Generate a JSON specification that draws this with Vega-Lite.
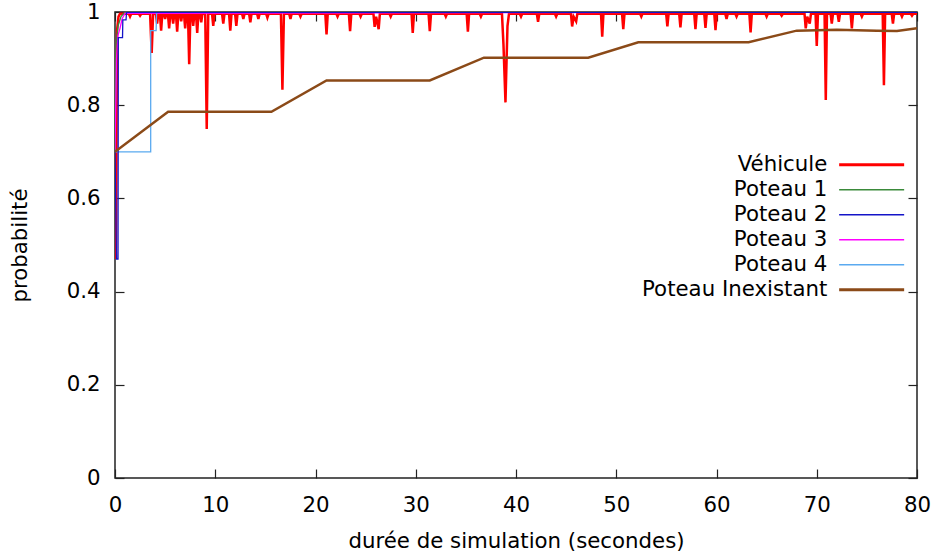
{
  "$schema": "https://vega.github.io/schema/vega-lite/v6.json",
  "width": 802,
  "height": 466,
  "autosize": "none",
  "padding": {"left": 115, "top": 12, "right": 18, "bottom": 78},
  "background": "white",
  "config": {
    "view": {"stroke": "#222222", "strokeWidth": 1.5},
    "font": "DejaVu Sans",
    "axis": {
      "domain": false,
      "grid": false,
      "ticks": true,
      "tickColor": "#222222",
      "tickSize": 9,
      "tickWidth": 1.2,
      "offset": -9,
      "zindex": 2,
      "labelFont": "DejaVu Sans",
      "labelFontSize": 21.3,
      "labelColor": "black",
      "titleFont": "DejaVu Sans",
      "titleFontSize": 21.3,
      "titleFontWeight": "normal",
      "titleColor": "black"
    }
  },
  "data": {
    "values": [
      {"s": "Véhicule", "t": 0, "p": 0.70},
      {"s": "Véhicule", "t": 0.1, "p": 0.47},
      {"s": "Véhicule", "t": 0.2, "p": 0.96},
      {"s": "Véhicule", "t": 0.35, "p": 0.99},
      {"s": "Véhicule", "t": 0.5, "p": 0.996},
      {"s": "Véhicule", "t": 1.38, "p": 0.996}, {"s": "Véhicule", "t": 1.5, "p": 0.99}, {"s": "Véhicule", "t": 1.62, "p": 0.996},
      {"s": "Véhicule", "t": 2.38, "p": 0.996}, {"s": "Véhicule", "t": 2.5, "p": 0.992}, {"s": "Véhicule", "t": 2.62, "p": 0.996},
      {"s": "Véhicule", "t": 3.5, "p": 0.996}, {"s": "Véhicule", "t": 3.66, "p": 0.912}, {"s": "Véhicule", "t": 3.8, "p": 0.996},
      {"s": "Véhicule", "t": 4.08, "p": 0.996}, {"s": "Véhicule", "t": 4.2, "p": 0.975}, {"s": "Véhicule", "t": 4.32, "p": 0.996},
      {"s": "Véhicule", "t": 4.48, "p": 0.996}, {"s": "Véhicule", "t": 4.6, "p": 0.96}, {"s": "Véhicule", "t": 4.72, "p": 0.996},
      {"s": "Véhicule", "t": 4.88, "p": 0.996}, {"s": "Véhicule", "t": 5.0, "p": 0.985}, {"s": "Véhicule", "t": 5.12, "p": 0.996},
      {"s": "Véhicule", "t": 5.28, "p": 0.996}, {"s": "Véhicule", "t": 5.4, "p": 0.965}, {"s": "Véhicule", "t": 5.52, "p": 0.996},
      {"s": "Véhicule", "t": 5.68, "p": 0.996}, {"s": "Véhicule", "t": 5.8, "p": 0.975}, {"s": "Véhicule", "t": 5.92, "p": 0.996},
      {"s": "Véhicule", "t": 6.08, "p": 0.996}, {"s": "Véhicule", "t": 6.2, "p": 0.958}, {"s": "Véhicule", "t": 6.32, "p": 0.996},
      {"s": "Véhicule", "t": 6.48, "p": 0.996}, {"s": "Véhicule", "t": 6.6, "p": 0.98}, {"s": "Véhicule", "t": 6.72, "p": 0.996},
      {"s": "Véhicule", "t": 6.88, "p": 0.996}, {"s": "Véhicule", "t": 7.0, "p": 0.965}, {"s": "Véhicule", "t": 7.12, "p": 0.996},
      {"s": "Véhicule", "t": 7.28, "p": 0.996}, {"s": "Véhicule", "t": 7.4, "p": 0.888}, {"s": "Véhicule", "t": 7.52, "p": 0.996},
      {"s": "Véhicule", "t": 7.68, "p": 0.996}, {"s": "Véhicule", "t": 7.8, "p": 0.97}, {"s": "Véhicule", "t": 7.92, "p": 0.996},
      {"s": "Véhicule", "t": 8.08, "p": 0.996}, {"s": "Véhicule", "t": 8.2, "p": 0.955}, {"s": "Véhicule", "t": 8.32, "p": 0.996},
      {"s": "Véhicule", "t": 8.48, "p": 0.996}, {"s": "Véhicule", "t": 8.6, "p": 0.978}, {"s": "Véhicule", "t": 8.72, "p": 0.996},
      {"s": "Véhicule", "t": 9.0, "p": 0.996}, {"s": "Véhicule", "t": 9.15, "p": 0.749}, {"s": "Véhicule", "t": 9.3, "p": 0.996},
      {"s": "Véhicule", "t": 9.68, "p": 0.996}, {"s": "Véhicule", "t": 9.8, "p": 0.97}, {"s": "Véhicule", "t": 9.92, "p": 0.996},
      {"s": "Véhicule", "t": 10.68, "p": 0.996}, {"s": "Véhicule", "t": 10.8, "p": 0.975}, {"s": "Véhicule", "t": 10.92, "p": 0.996},
      {"s": "Véhicule", "t": 11.38, "p": 0.996}, {"s": "Véhicule", "t": 11.5, "p": 0.96}, {"s": "Véhicule", "t": 11.62, "p": 0.996},
      {"s": "Véhicule", "t": 11.98, "p": 0.996}, {"s": "Véhicule", "t": 12.1, "p": 0.97}, {"s": "Véhicule", "t": 12.22, "p": 0.996},
      {"s": "Véhicule", "t": 12.68, "p": 0.996}, {"s": "Véhicule", "t": 12.8, "p": 0.985}, {"s": "Véhicule", "t": 12.92, "p": 0.996},
      {"s": "Véhicule", "t": 13.38, "p": 0.996}, {"s": "Véhicule", "t": 13.5, "p": 0.978}, {"s": "Véhicule", "t": 13.62, "p": 0.996},
      {"s": "Véhicule", "t": 14.18, "p": 0.996}, {"s": "Véhicule", "t": 14.3, "p": 0.985}, {"s": "Véhicule", "t": 14.42, "p": 0.996},
      {"s": "Véhicule", "t": 15.08, "p": 0.996}, {"s": "Véhicule", "t": 15.2, "p": 0.988}, {"s": "Véhicule", "t": 15.32, "p": 0.996},
      {"s": "Véhicule", "t": 16.55, "p": 0.996}, {"s": "Véhicule", "t": 16.7, "p": 0.833}, {"s": "Véhicule", "t": 16.85, "p": 0.996},
      {"s": "Véhicule", "t": 17.38, "p": 0.996}, {"s": "Véhicule", "t": 17.5, "p": 0.985}, {"s": "Véhicule", "t": 17.62, "p": 0.996},
      {"s": "Véhicule", "t": 18.38, "p": 0.996}, {"s": "Véhicule", "t": 18.5, "p": 0.99}, {"s": "Véhicule", "t": 18.62, "p": 0.996},
      {"s": "Véhicule", "t": 20.98, "p": 0.996}, {"s": "Véhicule", "t": 21.1, "p": 0.952}, {"s": "Véhicule", "t": 21.22, "p": 0.996},
      {"s": "Véhicule", "t": 22.08, "p": 0.996}, {"s": "Véhicule", "t": 22.2, "p": 0.99}, {"s": "Véhicule", "t": 22.32, "p": 0.996},
      {"s": "Véhicule", "t": 23.33, "p": 0.996}, {"s": "Véhicule", "t": 23.45, "p": 0.959}, {"s": "Véhicule", "t": 23.57, "p": 0.996},
      {"s": "Véhicule", "t": 24.38, "p": 0.996}, {"s": "Véhicule", "t": 24.5, "p": 0.99}, {"s": "Véhicule", "t": 24.62, "p": 0.996},
      {"s": "Véhicule", "t": 25.78, "p": 0.996}, {"s": "Véhicule", "t": 25.9, "p": 0.968}, {"s": "Véhicule", "t": 26.05, "p": 0.99}, {"s": "Véhicule", "t": 26.3, "p": 0.963}, {"s": "Véhicule", "t": 26.42, "p": 0.996},
      {"s": "Véhicule", "t": 27.38, "p": 0.996}, {"s": "Véhicule", "t": 27.5, "p": 0.99}, {"s": "Véhicule", "t": 27.62, "p": 0.996},
      {"s": "Véhicule", "t": 29.58, "p": 0.996}, {"s": "Véhicule", "t": 29.7, "p": 0.955}, {"s": "Véhicule", "t": 29.82, "p": 0.996},
      {"s": "Véhicule", "t": 31.28, "p": 0.996}, {"s": "Véhicule", "t": 31.4, "p": 0.959}, {"s": "Véhicule", "t": 31.52, "p": 0.996},
      {"s": "Véhicule", "t": 32.88, "p": 0.996}, {"s": "Véhicule", "t": 33.0, "p": 0.99}, {"s": "Véhicule", "t": 33.12, "p": 0.996},
      {"s": "Véhicule", "t": 35.08, "p": 0.996}, {"s": "Véhicule", "t": 35.2, "p": 0.958}, {"s": "Véhicule", "t": 35.32, "p": 0.996},
      {"s": "Véhicule", "t": 36.38, "p": 0.996}, {"s": "Véhicule", "t": 36.5, "p": 0.99}, {"s": "Véhicule", "t": 36.62, "p": 0.996},
      {"s": "Véhicule", "t": 38.6, "p": 0.996}, {"s": "Véhicule", "t": 38.75, "p": 0.93}, {"s": "Véhicule", "t": 38.95, "p": 0.806}, {"s": "Véhicule", "t": 39.15, "p": 0.97}, {"s": "Véhicule", "t": 39.3, "p": 0.996},
      {"s": "Véhicule", "t": 40.38, "p": 0.996}, {"s": "Véhicule", "t": 40.5, "p": 0.99}, {"s": "Véhicule", "t": 40.62, "p": 0.996},
      {"s": "Véhicule", "t": 42.08, "p": 0.996}, {"s": "Véhicule", "t": 42.2, "p": 0.979}, {"s": "Véhicule", "t": 42.32, "p": 0.996},
      {"s": "Véhicule", "t": 43.88, "p": 0.996}, {"s": "Véhicule", "t": 44.0, "p": 0.99}, {"s": "Véhicule", "t": 44.12, "p": 0.996},
      {"s": "Véhicule", "t": 45.48, "p": 0.996}, {"s": "Véhicule", "t": 45.6, "p": 0.969}, {"s": "Véhicule", "t": 45.75, "p": 0.99}, {"s": "Véhicule", "t": 46.0, "p": 0.98}, {"s": "Véhicule", "t": 46.12, "p": 0.996},
      {"s": "Véhicule", "t": 48.48, "p": 0.996}, {"s": "Véhicule", "t": 48.6, "p": 0.947}, {"s": "Véhicule", "t": 48.72, "p": 0.996},
      {"s": "Véhicule", "t": 50.58, "p": 0.996}, {"s": "Véhicule", "t": 50.7, "p": 0.963}, {"s": "Véhicule", "t": 50.82, "p": 0.996},
      {"s": "Véhicule", "t": 52.38, "p": 0.996}, {"s": "Véhicule", "t": 52.5, "p": 0.99}, {"s": "Véhicule", "t": 52.62, "p": 0.996},
      {"s": "Véhicule", "t": 54.98, "p": 0.996}, {"s": "Véhicule", "t": 55.1, "p": 0.969}, {"s": "Véhicule", "t": 55.22, "p": 0.996},
      {"s": "Véhicule", "t": 56.28, "p": 0.996}, {"s": "Véhicule", "t": 56.4, "p": 0.967}, {"s": "Véhicule", "t": 56.52, "p": 0.996},
      {"s": "Véhicule", "t": 57.78, "p": 0.996}, {"s": "Véhicule", "t": 57.9, "p": 0.963}, {"s": "Véhicule", "t": 58.02, "p": 0.996},
      {"s": "Véhicule", "t": 58.78, "p": 0.996}, {"s": "Véhicule", "t": 58.9, "p": 0.966}, {"s": "Véhicule", "t": 59.02, "p": 0.996},
      {"s": "Véhicule", "t": 59.78, "p": 0.996}, {"s": "Véhicule", "t": 59.9, "p": 0.961}, {"s": "Véhicule", "t": 60.02, "p": 0.996},
      {"s": "Véhicule", "t": 60.88, "p": 0.996}, {"s": "Véhicule", "t": 61.0, "p": 0.985}, {"s": "Véhicule", "t": 61.12, "p": 0.996},
      {"s": "Véhicule", "t": 61.88, "p": 0.996}, {"s": "Véhicule", "t": 62.0, "p": 0.99}, {"s": "Véhicule", "t": 62.12, "p": 0.996},
      {"s": "Véhicule", "t": 63.28, "p": 0.996}, {"s": "Véhicule", "t": 63.4, "p": 0.956}, {"s": "Véhicule", "t": 63.52, "p": 0.996},
      {"s": "Véhicule", "t": 64.88, "p": 0.996}, {"s": "Véhicule", "t": 65.0, "p": 0.99}, {"s": "Véhicule", "t": 65.12, "p": 0.996},
      {"s": "Véhicule", "t": 66.38, "p": 0.996}, {"s": "Véhicule", "t": 66.5, "p": 0.992}, {"s": "Véhicule", "t": 66.62, "p": 0.996},
      {"s": "Véhicule", "t": 68.78, "p": 0.996}, {"s": "Véhicule", "t": 68.9, "p": 0.965}, {"s": "Véhicule", "t": 69.05, "p": 0.99}, {"s": "Véhicule", "t": 69.3, "p": 0.975}, {"s": "Véhicule", "t": 69.42, "p": 0.996},
      {"s": "Véhicule", "t": 69.88, "p": 0.996}, {"s": "Véhicule", "t": 70.0, "p": 0.927}, {"s": "Véhicule", "t": 70.12, "p": 0.996},
      {"s": "Véhicule", "t": 70.78, "p": 0.996}, {"s": "Véhicule", "t": 70.9, "p": 0.811}, {"s": "Véhicule", "t": 71.02, "p": 0.996},
      {"s": "Véhicule", "t": 71.38, "p": 0.996}, {"s": "Véhicule", "t": 71.5, "p": 0.975}, {"s": "Véhicule", "t": 71.62, "p": 0.996},
      {"s": "Véhicule", "t": 72.08, "p": 0.996}, {"s": "Véhicule", "t": 72.2, "p": 0.979}, {"s": "Véhicule", "t": 72.32, "p": 0.996},
      {"s": "Véhicule", "t": 73.38, "p": 0.996}, {"s": "Véhicule", "t": 73.5, "p": 0.965}, {"s": "Véhicule", "t": 73.62, "p": 0.996},
      {"s": "Véhicule", "t": 74.38, "p": 0.996}, {"s": "Véhicule", "t": 74.5, "p": 0.99}, {"s": "Véhicule", "t": 74.62, "p": 0.996},
      {"s": "Véhicule", "t": 76.58, "p": 0.996}, {"s": "Véhicule", "t": 76.7, "p": 0.843}, {"s": "Véhicule", "t": 76.82, "p": 0.996},
      {"s": "Véhicule", "t": 77.48, "p": 0.996}, {"s": "Véhicule", "t": 77.6, "p": 0.975}, {"s": "Véhicule", "t": 77.72, "p": 0.996},
      {"s": "Véhicule", "t": 78.38, "p": 0.996}, {"s": "Véhicule", "t": 78.5, "p": 0.99}, {"s": "Véhicule", "t": 78.62, "p": 0.996},
      {"s": "Véhicule", "t": 79.38, "p": 0.996}, {"s": "Véhicule", "t": 79.5, "p": 0.992}, {"s": "Véhicule", "t": 79.62, "p": 0.996},
      {"s": "Véhicule", "t": 80, "p": 0.996},

      {"s": "Poteau 1", "t": 0, "p": 0.70},
      {"s": "Poteau 1", "t": 0.1, "p": 0.93},
      {"s": "Poteau 1", "t": 0.3, "p": 0.97},
      {"s": "Poteau 1", "t": 0.6, "p": 0.99},
      {"s": "Poteau 1", "t": 1.0, "p": 1.0},
      {"s": "Poteau 1", "t": 80, "p": 1.0},

      {"s": "Poteau 2", "t": 0, "p": 0.70},
      {"s": "Poteau 2", "t": 0.15, "p": 0.47},
      {"s": "Poteau 2", "t": 0.3, "p": 0.47},
      {"s": "Poteau 2", "t": 0.33, "p": 0.945},
      {"s": "Poteau 2", "t": 0.75, "p": 0.945},
      {"s": "Poteau 2", "t": 0.78, "p": 0.983},
      {"s": "Poteau 2", "t": 1.1, "p": 0.983},
      {"s": "Poteau 2", "t": 1.15, "p": 0.999},
      {"s": "Poteau 2", "t": 80, "p": 0.999},

      {"s": "Poteau 3", "t": 0, "p": 0.70},
      {"s": "Poteau 3", "t": 0.15, "p": 0.90},
      {"s": "Poteau 3", "t": 0.3, "p": 0.95},
      {"s": "Poteau 3", "t": 0.5, "p": 0.965},
      {"s": "Poteau 3", "t": 0.7, "p": 0.985},
      {"s": "Poteau 3", "t": 1.0, "p": 0.997},
      {"s": "Poteau 3", "t": 80, "p": 1.0},

      {"s": "Poteau 4", "t": 0, "p": 0.70},
      {"s": "Poteau 4", "t": 3.56, "p": 0.70},
      {"s": "Poteau 4", "t": 3.56, "p": 0.96},
      {"s": "Poteau 4", "t": 4.1, "p": 0.96},
      {"s": "Poteau 4", "t": 4.15, "p": 1.0},
      {"s": "Poteau 4", "t": 80, "p": 1.0},

      {"s": "Poteau Inexistant", "t": 0, "p": 0.70},
      {"s": "Poteau Inexistant", "t": 5.3, "p": 0.786},
      {"s": "Poteau Inexistant", "t": 15.6, "p": 0.786},
      {"s": "Poteau Inexistant", "t": 21.1, "p": 0.853},
      {"s": "Poteau Inexistant", "t": 31.4, "p": 0.853},
      {"s": "Poteau Inexistant", "t": 36.8, "p": 0.902},
      {"s": "Poteau Inexistant", "t": 47.2, "p": 0.902},
      {"s": "Poteau Inexistant", "t": 52.2, "p": 0.935},
      {"s": "Poteau Inexistant", "t": 63.2, "p": 0.935},
      {"s": "Poteau Inexistant", "t": 68.0, "p": 0.96},
      {"s": "Poteau Inexistant", "t": 72.0, "p": 0.962},
      {"s": "Poteau Inexistant", "t": 76.0, "p": 0.96},
      {"s": "Poteau Inexistant", "t": 78.0, "p": 0.959},
      {"s": "Poteau Inexistant", "t": 80, "p": 0.965}
    ]
  },
  "encoding": {
    "color": {
      "field": "s",
      "type": "nominal",
      "scale": {
        "domain": ["Véhicule", "Poteau 1", "Poteau 2", "Poteau 3", "Poteau 4", "Poteau Inexistant"],
        "range": ["#ff0000", "#3a8a3a", "#1414c8", "#ff00ff", "#5aaaf0", "#8b4a18"]
      },
      "legend": {
        "title": null,
        "orient": "none",
        "legendX": 746,
        "legendY": 142,
        "symbolType": "M-5,0H5",
        "symbolSize": 169,
        "symbolStrokeWidth": 2,
        "labelAlign": "right",
        "labelOffset": -55,
        "labelFont": "DejaVu Sans",
        "labelFontSize": 21.3,
        "labelColor": "black",
        "labelLimit": 0,
        "rowPadding": 3,
        "encode": {
          "symbols": {
            "update": {
              "strokeWidth": {"signal": "datum.value === 'Véhicule' || datum.value === 'Poteau Inexistant' ? 3 : 1.5"}
            }
          }
        }
      }
    }
  },
  "layer": [
    {
      "transform": [{"filter": "datum.s === 'Véhicule'"}],
      "mark": {"type": "line", "strokeWidth": 2.5, "clip": true},
      "encoding": {
        "x": {
          "field": "t", "type": "quantitative",
          "scale": {"domain": [0, 80], "nice": false, "zero": false},
          "axis": {
            "orient": "bottom",
            "values": [0, 10, 20, 30, 40, 50, 60, 70, 80],
            "title": "durée de simulation (secondes)",
            "labelPadding": 16,
            "titlePadding": 15,
            "labelFlush": false
          }
        },
        "y": {
          "field": "p", "type": "quantitative",
          "scale": {"domain": [0, 1], "nice": false, "zero": false},
          "axis": {
            "orient": "left",
            "values": [0, 0.2, 0.4, 0.6, 0.8, 1],
            "format": "~g",
            "title": "probabilité",
            "labelPadding": 15,
            "titlePadding": 36
          }
        }
      }
    },
    {
      "transform": [{"filter": "datum.s === 'Poteau 1' || datum.s === 'Poteau 3' || datum.s === 'Poteau 4'"}],
      "mark": {"type": "line", "strokeWidth": 1.3, "clip": true},
      "encoding": {
        "x": {
          "field": "t", "type": "quantitative",
          "axis": {"orient": "top", "values": [0, 10, 20, 30, 40, 50, 60, 70, 80], "labels": false, "title": null}
        },
        "y": {
          "field": "p", "type": "quantitative",
          "axis": {"orient": "right", "values": [0, 0.2, 0.4, 0.6, 0.8, 1], "labels": false, "title": null}
        }
      }
    },
    {
      "transform": [{"filter": "datum.s === 'Poteau 2'"}],
      "mark": {"type": "line", "strokeWidth": 1.3, "clip": true},
      "encoding": {
        "x": {"field": "t", "type": "quantitative", "axis": null},
        "y": {"field": "p", "type": "quantitative", "axis": null}
      }
    },
    {
      "transform": [{"filter": "datum.s === 'Poteau Inexistant'"}],
      "mark": {"type": "line", "strokeWidth": 2.5, "clip": true},
      "encoding": {
        "x": {"field": "t", "type": "quantitative", "axis": null},
        "y": {"field": "p", "type": "quantitative", "axis": null}
      }
    }
  ],
  "resolve": {"axis": {"x": "independent", "y": "independent"}}
}
